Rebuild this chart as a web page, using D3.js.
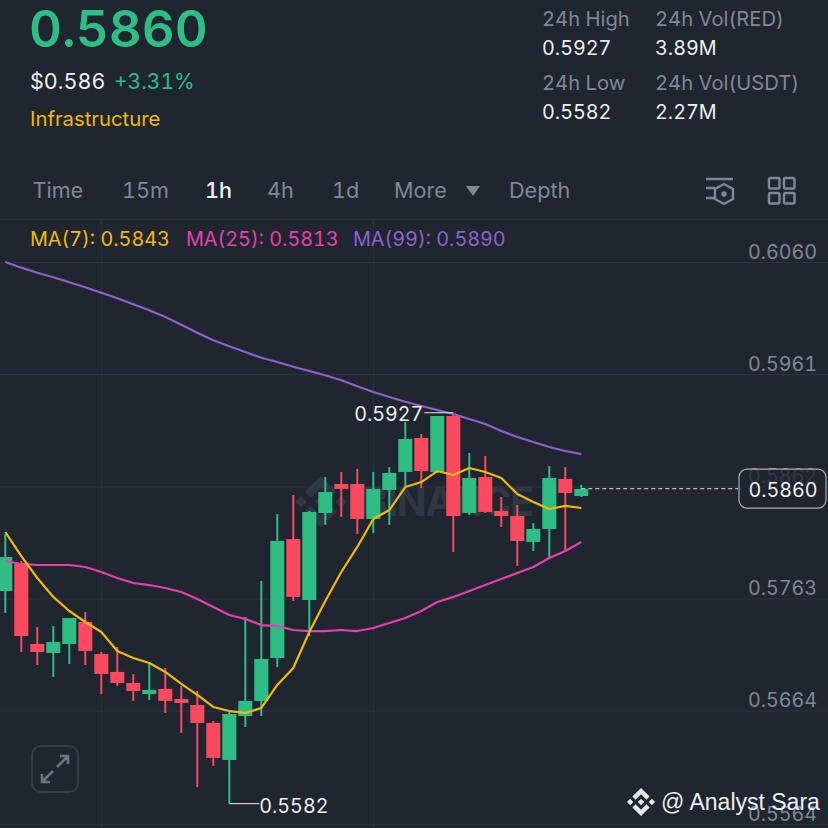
<!DOCTYPE html>
<html>
<head>
<meta charset="utf-8">
<script src="https://cdn.jsdelivr.net/npm/d3@7"></script>
<style>
  html, body { margin: 0; padding: 0; background: #1f2630; }
  svg { display: block; }
  text { font-family: "Inter", "Noto Sans", sans-serif; font-variant-numeric: tabular-nums; }
</style>
</head>
<body>
<script>
// candles, one per hour, oldest first
var opens  = [0.57696,0.57935,0.57229,0.57149,0.57229,0.57423,0.57140,0.56982,0.56885,0.56787,0.56832,0.56743,0.56690,0.56532,0.56205,0.56593,0.56726,0.57105,0.58155,0.57617,0.58385,0.58641,0.58641,0.58332,0.58588,0.58747,0.59047,0.58747,0.59241,0.58385,0.58702,0.58402,0.58358,0.58129,0.58244,0.58685,0.58535];
var highs  = [0.58199,0.57961,0.57379,0.57387,0.57458,0.57511,0.57158,0.57202,0.56964,0.57052,0.57017,0.56858,0.56814,0.56549,0.56629,0.57467,0.57785,0.58376,0.58544,0.58402,0.58702,0.58747,0.58773,0.58747,0.58791,0.59188,0.59082,0.59241,0.59270,0.58914,0.58888,0.58526,0.58455,0.58296,0.58799,0.58791,0.58632];
var lows   = [0.57502,0.57158,0.57043,0.56937,0.57052,0.57043,0.56787,0.56858,0.56726,0.56735,0.56620,0.56443,0.55967,0.56152,0.55820,0.56496,0.56593,0.57026,0.57608,0.57299,0.58279,0.58350,0.58199,0.58208,0.58279,0.58623,0.58605,0.58738,0.58041,0.58367,0.58385,0.58261,0.57917,0.58049,0.57996,0.58041,0.58526];
var closes = [0.57996,0.57299,0.57158,0.57246,0.57458,0.57167,0.56964,0.56885,0.56814,0.56823,0.56726,0.56708,0.56532,0.56223,0.56611,0.56726,0.57096,0.58138,0.57644,0.58394,0.58570,0.58597,0.58332,0.58597,0.58738,0.59038,0.58755,0.59241,0.58358,0.58694,0.58394,0.58358,0.58138,0.58244,0.58694,0.58561,0.58597];

var ma7  = [0.58217,0.58005,0.57811,0.57644,0.57520,0.57423,0.57335,0.57167,0.57105,0.57061,0.56982,0.56876,0.56779,0.56673,0.56637,0.56620,0.56664,0.56867,0.57017,0.57335,0.57608,0.57864,0.58085,0.58332,0.58411,0.58614,0.58658,0.58755,0.58720,0.58782,0.58747,0.58694,0.58552,0.58482,0.58420,0.58447,0.58429];
var ma25 = [0.57961,0.57935,0.57926,0.57926,0.57926,0.57908,0.57864,0.57811,0.57767,0.57749,0.57723,0.57688,0.57626,0.57555,0.57485,0.57449,0.57396,0.57387,0.57352,0.57343,0.57343,0.57352,0.57343,0.57370,0.57414,0.57458,0.57520,0.57599,0.57644,0.57696,0.57749,0.57802,0.57855,0.57908,0.57988,0.58049,0.58129];
var ma99 = [0.60600,0.60550,0.60505,0.60465,0.60421,0.60377,0.60329,0.60280,0.60227,0.60174,0.60115,0.60047,0.59976,0.59909,0.59856,0.59806,0.59755,0.59717,0.59676,0.59638,0.59600,0.59556,0.59503,0.59453,0.59409,0.59367,0.59329,0.59294,0.59258,0.59214,0.59170,0.59108,0.59056,0.59011,0.58967,0.58932,0.58905];

var priceTicks = [0.6060, 0.5961, 0.5862, 0.5763, 0.5664, 0.5564];
var timeTicks  = [6, 23]; // candles that carry a vertical grid line
var tabs = ["Time", "15m", "1h", "4h", "1d", "More", "Depth"];
var tabX = [32.5, 122, 205, 267, 332, 394, 509];
var lastPrice = 0.5860, dayHigh = 0.5927, dayLow = 0.5582;

var green = "#2ebd85", red = "#fb4a60", grey = "#7f8894", white = "#eef0f2",
    yellow = "#f0b90b", pink = "#e83fae", purple = "#8e62c9", gridColor = "#2c323d";

var binancePath = "M16.624 13.9202l2.7175 2.7154-7.353 7.353-7.353-7.352 2.7175-2.7164 4.6355 4.6595 4.6356-4.6595zm4.6366-4.6366L24 12l-2.7154 2.7164L18.5682 12l2.6924-2.7164zm-9.272.001l2.7163 2.6914-2.7164 2.7174v-.001L9.2721 12l2.7164-2.7154zm-9.2722-.001L5.4088 12l-2.6914 2.6924L0 12l2.7164-2.7164zM11.9885.0115l7.353 7.329-2.7174 2.7154-4.6356-4.6356-4.6355 4.6595-2.7174-2.7154 7.353-7.353z";

var svg = d3.select("body").append("svg").attr("width", 828).attr("height", 828);
svg.append("rect").attr("width", 828).attr("height", 828).attr("fill", "#1f2630");

var x = d3.scaleLinear().domain([0, 36]).range([5.3, 581.3]);
var y = d3.scaleLinear().domain([0.5564, 0.6060]).range([824, 262]);

function label(txt, px, py, size, fill, weight, anchor) {
  return svg.append("text").attr("x", px).attr("y", py)
    .attr("font-size", size).attr("fill", fill)
    .attr("font-weight", weight || 400)
    .attr("text-anchor", anchor || "start").text(txt);
}

// header
label("0.5860", 29, 47, 51, green, 600);
label("$0.586", 30, 89, 21.5, white);
label("+3.31%", 114, 89, 21, green);
label("Infrastructure", 30, 126, 20.3, yellow);
label("24h High", 542, 26, 20.2, grey);
label("0.5927", 542, 55, 19.8, white);
label("24h Low", 542, 90, 20.2, grey);
label("0.5582", 542, 119, 19.8, white);
label("24h Vol(RED)", 655, 26, 20.2, grey);
label("3.89M", 655, 55, 19.8, white);
label("24h Vol(USDT)", 655, 90, 20.2, grey);
label("2.27M", 655, 119, 19.8, white);

// interval tabs
tabs.forEach(function(t, i) {
  label(t, tabX[i], 198, 21.6, t == "1h" ? white : grey, t == "1h" ? 500 : 400);
});
svg.append("path").attr("d", "M466 186h14l-7 10z").attr("fill", grey);

// toolbar icons
var icon = svg.append("g").attr("fill", "none").attr("stroke", grey).attr("stroke-width", 2.4);
icon.append("path").attr("d", "M706 179h27M706 188h9M706 198h9");
icon.append("path").attr("d", "M724 184l9 5v10l-9 5-9-5v-10z");
icon.append("circle").attr("cx", 724).attr("cy", 194).attr("r", 1.5).attr("fill", grey);
[[769, 178], [784, 178], [769, 193], [784, 193]].forEach(function(p) {
  icon.append("rect").attr("x", p[0]).attr("y", p[1]).attr("width", 10.5).attr("height", 10.5).attr("rx", 1.5);
});

svg.append("line").attr("x1", 0).attr("x2", 828).attr("y1", 219.5).attr("y2", 219.5).attr("stroke", gridColor);

// vertical grid
svg.append("g").selectAll("line").data(timeTicks).enter().append("line")
  .attr("x1", function(d) { return x(d); }).attr("x2", function(d) { return x(d); })
  .attr("y1", 220).attr("y2", 828)
  .attr("stroke", gridColor).attr("stroke-width", 1.2);

// price axis, labels sit just above the grid lines
var axis = svg.append("g").attr("transform", "translate(828,0)")
  .call(d3.axisLeft(y).tickValues(priceTicks).tickSize(828).tickFormat(d3.format(".4f")));
axis.select(".domain").remove();
axis.selectAll("line").attr("stroke", gridColor).attr("stroke-width", 1.2);
axis.selectAll("text")
  .attr("x", -11).attr("y", -4).attr("dy", 0)
  .attr("font-size", 19.7).attr("font-family", "Inter")
  .attr("fill", grey);

// watermark
var wm = svg.append("g");
wm.append("path").attr("d", binancePath)
  .attr("transform", "translate(295,476) scale(2.15)").attr("fill", "#313742");
wm.append("text").attr("x", 362).attr("y", 516).attr("font-size", 39).attr("font-weight", 700)
  .attr("textLength", 172).attr("fill", "#313742").text("BINANCE");

// candles
var candles = d3.range(opens.length).map(function(i) {
  return {i: i, open: opens[i], high: highs[i], low: lows[i], close: closes[i]};
});
var bodyW = 14;
function candleColor(d) { return d.close >= d.open ? green : red; }

var candle = svg.append("g").selectAll("g").data(candles).enter().append("g");
candle.append("line")
  .attr("x1", function(d) { return x(d.i); }).attr("x2", function(d) { return x(d.i); })
  .attr("y1", function(d) { return y(d.high); }).attr("y2", function(d) { return y(d.low); })
  .attr("stroke", candleColor).attr("stroke-width", 2);
candle.append("rect")
  .attr("x", function(d) { return x(d.i) - bodyW / 2; })
  .attr("y", function(d) { return y(Math.max(d.open, d.close)); })
  .attr("width", bodyW)
  .attr("height", function(d) { return Math.abs(y(d.open) - y(d.close)); })
  .attr("fill", candleColor);

// moving averages
var line = d3.line().x(function(d, i) { return x(i); }).y(function(d) { return y(d); });
[[ma99, purple], [ma25, pink], [ma7, yellow]].forEach(function(s) {
  svg.append("path").attr("d", line(s[0])).attr("fill", "none")
    .attr("stroke", s[1]).attr("stroke-width", 2.2).attr("stroke-linejoin", "round");
});

label("MA(7): 0.5843", 30, 246, 19.8, yellow);
label("MA(25): 0.5813", 186, 246, 19.8, pink);
label("MA(99): 0.5890", 353, 246, 19.8, purple);

// high / low markers
svg.append("path").attr("fill", "none").attr("stroke", "#c9ccd1").attr("stroke-width", 1.2)
  .attr("d", "M" + x(28) + " " + y(dayHigh) + "H" + (x(28) - 29));
label("0.5927", x(28) - 30, y(dayHigh) + 8, 19.7, white, 400, "end");
svg.append("path").attr("fill", "none").attr("stroke", "#c9ccd1").attr("stroke-width", 1.2)
  .attr("d", "M" + x(14) + " " + y(dayLow) + "H" + (x(14) + 30));
label("0.5582", x(14) + 30, y(dayLow) + 9, 19.7, white);

// last price line and tag
svg.append("line").attr("x1", x(36)).attr("x2", 738).attr("y1", y(lastPrice)).attr("y2", y(lastPrice))
  .attr("stroke", "#b9bdc3").attr("stroke-width", 1.2).attr("stroke-dasharray", "4 3");
svg.append("rect").attr("x", 739).attr("y", y(lastPrice) - 19.5).attr("width", 87).attr("height", 39).attr("rx", 8)
  .attr("fill", "#1f2630").attr("fill-opacity", 0.82)
  .attr("stroke", "#a9adb3").attr("stroke-width", 1.2);
label("0.5860", 783, y(lastPrice) + 8, 19.7, white, 400, "middle");

// expand button
svg.append("rect").attr("x", 32).attr("y", 746).attr("width", 46).attr("height", 46).attr("rx", 9)
  .attr("fill", "none").attr("stroke", "#373d47").attr("stroke-width", 2);
svg.append("path").attr("fill", "none").attr("stroke", "#6d7480").attr("stroke-width", 2.6)
  .attr("d", "M57 767L68 756M60 756H68V764M53 771L42 782M50 782H42V774");

// credit
svg.append("path").attr("d", binancePath)
  .attr("transform", "translate(627,788) scale(1.17)").attr("fill", "#e6e7e9");
svg.append("text").attr("x", 661).attr("y", 810).attr("font-size", 23)
  .style("font-family", "'Liberation Sans', sans-serif")
  .attr("fill", "#eceef0").text("@ Analyst Sara");
</script>
</body>
</html>
